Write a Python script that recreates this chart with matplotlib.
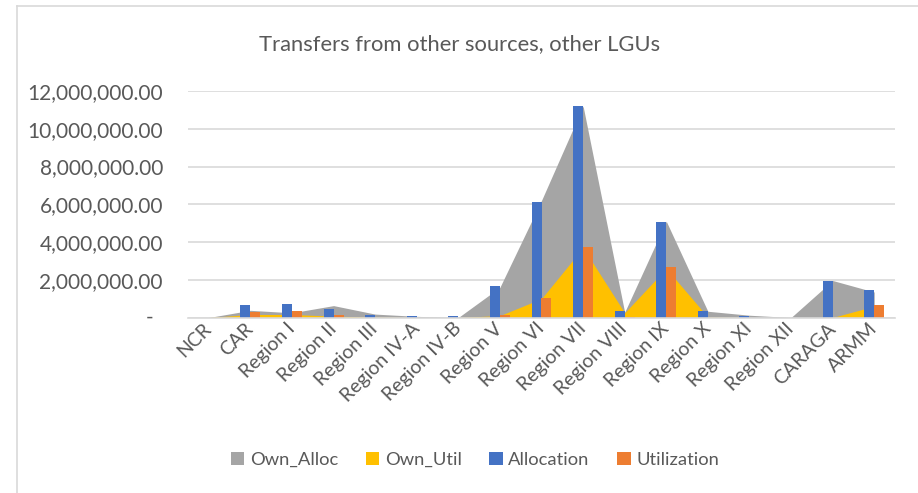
#!/usr/bin/env python3
"""Transfers from other sources, other LGUs -- areas (own) + columns (total)."""
import numpy as np
import matplotlib
matplotlib.use('Agg')
import matplotlib.pyplot as plt
from matplotlib.lines import Line2D
from matplotlib.patches import Patch
from matplotlib.ticker import FuncFormatter

regions = ['NCR', 'CAR', 'Region I', 'Region II', 'Region III', 'Region IV-A',
           'Region IV-B', 'Region V', 'Region VI', 'Region VII', 'Region VIII',
           'Region IX', 'Region X', 'Region XI', 'Region XII', 'CARAGA', 'ARMM']

own_alloc = [0, 380000, 250000, 630000, 180000, 60000, 0, 1600000, 6200000,
             11200000, 280000, 5100000, 330000, 120000, 0, 1960000, 1350000]
own_util = [0, 160000, 160000, 70000, 20000, 0, 0, 100000, 1000000,
            3700000, 250000, 2600000, 20000, 0, 0, 0, 600000]
allocation = [0, 650000, 690000, 440000, 150000, 80000, 100000, 1670000, 6140000,
              11220000, 340000, 5080000, 320000, 80000, 0, 1960000, 1440000]
utilization = [0, 280000, 330000, 120000, 0, 0, 0, 130000, 1020000,
               3760000, 50000, 2670000, 0, 0, 0, 0, 650000]

series_names = ['Own_Alloc', 'Own_Util', 'Allocation', 'Utilization']
colors = ['#A5A5A5', '#FFC000', '#4472C4', '#ED7D31']
text_color = '#595959'
grid_color = '#D9D9D9'

plt.rcParams['font.family'] = ['Lato', 'DejaVu Sans']

W, H = 918, 493
fig = plt.figure(figsize=(W / 100, H / 100), dpi=100)

# chart frame (only left/top visible in the crop)
fig.add_artist(Line2D([17 / W, 17 / W], [0, 1 - 6 / H], color=grid_color, lw=1.2))
fig.add_artist(Line2D([17 / W, 1], [1 - 6 / H, 1 - 6 / H], color=grid_color, lw=1.2))

ax = fig.add_axes([188 / W, 1 - 317.5 / H, (895 - 188) / W, (317.5 - 91) / H])

x = np.arange(len(regions))
ax.fill_between(x, own_alloc, color=colors[0], lw=0, zorder=1)
ax.fill_between(x, own_util, color=colors[1], lw=0, zorder=2)
bw = 0.24
ax.bar(x - bw / 2, allocation, width=bw, color=colors[2], zorder=3)
ax.bar(x + bw / 2, utilization, width=bw, color=colors[3], zorder=3)

ax.set_xlim(-0.5, len(regions) - 0.5)
ax.set_ylim(0, 12000000)
ax.set_yticks(np.arange(0, 12000001, 2000000))
ax.yaxis.set_major_formatter(FuncFormatter(lambda v, p: '' if v == 0 else f'{v:,.2f}'))
ax.grid(axis='y', color=grid_color, lw=1.2, zorder=0)
ax.set_axisbelow(True)
for s in ['top', 'right', 'left']:
    ax.spines[s].set_visible(False)
ax.spines['bottom'].set_color(grid_color)
ax.spines['bottom'].set_linewidth(1.2)
ax.spines['bottom'].set_zorder(4)

ax.tick_params(axis='y', length=0, pad=18, labelsize=15, labelcolor=text_color)
ax.tick_params(axis='x', length=0, pad=6, labelsize=14, labelcolor=text_color)
ax.set_xticks(x)
ax.set_xticklabels(regions, rotation=45, ha='right', va='center', rotation_mode='anchor')
# accounting-style dash for zero
ax.text(150 / W, 1 - 318 / H, '-', transform=fig.transFigure, ha='center', va='center',
        fontsize=15, color=text_color)

fig.text(460 / W, 1 - 44 / H, 'Transfers from other sources, other LGUs', ha='center',
         va='center', fontsize=15.8, color=text_color)

handles = [Patch(facecolor=c, edgecolor='none') for c in colors]
fig.legend(handles, series_names, loc='center', bbox_to_anchor=(475 / W, 1 - 460 / H),
           ncol=4, frameon=False, fontsize=13.2, labelcolor=text_color,
           handlelength=0.75, handleheight=0.75, handletextpad=0.3, columnspacing=1.5)

fig.savefig('out.png', dpi=100)
